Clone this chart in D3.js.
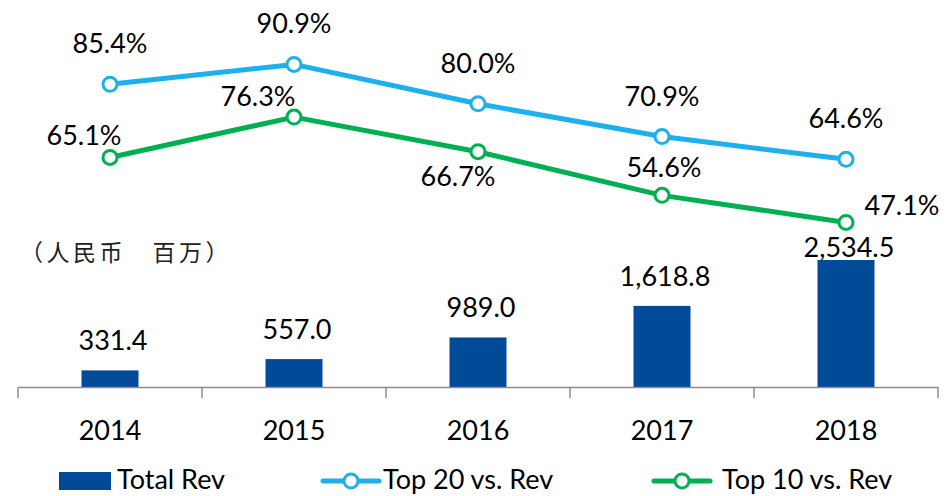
<!DOCTYPE html>
<html><head><meta charset="utf-8">
<script src="https://cdn.jsdelivr.net/npm/d3@7"></script>
<style>body{margin:0;background:#fff}svg{display:block}</style>
</head><body>
<svg id="c" width="947" height="496"></svg>
<script>
const years = ["2014","2015","2016","2017","2018"];
const totalRev = [331.4, 557.0, 989.0, 1618.8, 2534.5];
const top20 = [85.4, 90.9, 80.0, 70.9, 64.6];
const top10 = [65.1, 76.3, 66.7, 54.6, 47.1];
const unitLabel = "（人民币　百万）";
const legendNames = ["Total Rev", "Top 20 vs. Rev", "Top 10 vs. Rev"];

const FONT = "Lato, 'Open Sans', sans-serif";
const FS = 27;
const BLUE_BAR = "#004a97", LINE_BLUE = "#1eb0ec", LINE_GREEN = "#00b050";

const svg = d3.select("#c");
const x = d3.scaleBand().domain(years).range([18, 938]).paddingInner(0).paddingOuter(0);
const yBar = d3.scaleLinear().domain([0, 3000]).range([387, 236.7]);
const yPct = d3.scaleLinear().domain([0, 100]).range([392.3, 31.6]);
const cx = d => x(d) + x.bandwidth()/2;
const barW = 57;

// bars
svg.selectAll("rect.bar").data(years).join("rect")
  .attr("x", d => cx(d) - barW/2).attr("width", barW)
  .attr("y", (d,i) => yBar(totalRev[i])).attr("height", (d,i) => yBar(0) - yBar(totalRev[i]))
  .attr("fill", BLUE_BAR);

// axis
const ax = svg.append("g").attr("transform", "translate(0,387)")
  .call(d3.axisBottom(x).tickSize(0).tickPadding(34));
ax.select(".domain").attr("stroke", "#8c8c8c").attr("stroke-width", 1.5);
ax.selectAll(".tick text").attr("font-family", FONT).attr("font-size", FS).attr("fill", "#000");
const bounds = years.map(d => x(d)).concat([x(years[years.length-1]) + x.bandwidth()]);
svg.selectAll("line.tk").data(bounds).join("line")
  .attr("x1", d => d).attr("x2", d => d).attr("y1", 387).attr("y2", 398)
  .attr("stroke", "#8c8c8c").attr("stroke-width", 1.5);

// bar labels
const fmt = d3.format(",.1f");
svg.selectAll("text.bl").data(years).join("text")
  .attr("x", d => cx(d) + 3)
  .attr("y", (d,i) => i === years.length-1 ? yBar(totalRev[i]) - 3 : yBar(totalRev[i]) - 20)
  .attr("text-anchor", "middle").attr("font-family", FONT).attr("font-size", FS)
  .text((d,i) => fmt(totalRev[i]));

// lines
function drawLine(vals, color) {
  const line = d3.line().x((d,i) => cx(years[i])).y(d => yPct(d));
  svg.append("path").datum(vals).attr("d", line).attr("fill", "none")
    .attr("stroke", color).attr("stroke-width", 5).attr("stroke-linejoin", "round");
  svg.selectAll(null).data(vals).join("circle")
    .attr("cx", (d,i) => cx(years[i])).attr("cy", d => yPct(d)).attr("r", 7)
    .attr("fill", "#fff").attr("stroke", color).attr("stroke-width", 3);
}
drawLine(top20, LINE_BLUE);
drawLine(top10, LINE_GREEN);

const pf = d => d.toFixed(1) + "%";
svg.selectAll("text.t20").data(top20).join("text")
  .attr("x", (d,i) => cx(years[i])).attr("y", d => yPct(d) - 31)
  .attr("text-anchor", "middle").attr("font-family", FONT).attr("font-size", FS).text(pf);

// top10 label placements: dx, dy relative to the point
const t10pos = [[-26, -12], [-36, -11], [-20, 34], [2, -18], [56, -7]];
svg.selectAll("text.t10").data(top10).join("text")
  .attr("x", (d,i) => cx(years[i]) + t10pos[i][0]).attr("y", (d,i) => yPct(d) + t10pos[i][1])
  .attr("text-anchor", "middle").attr("font-family", FONT).attr("font-size", FS).text(pf);

// unit label
svg.append("text").attr("x", 20).attr("y", 261)
  .attr("font-family", "'Noto Sans CJK SC', sans-serif").attr("font-size", 23)
  .attr("letter-spacing", 3.5).attr("font-weight", 400).attr("fill", "#222").text(unitLabel);

// legend
const ly = 481;
svg.append("rect").attr("x", 59).attr("y", 472).attr("width", 52).attr("height", 18).attr("fill", BLUE_BAR);
const legText = [[117, legendNames[0]], [383, legendNames[1]], [722, legendNames[2]]];
svg.selectAll("text.lg").data(legText).join("text")
  .attr("x", d => d[0]).attr("y", 489).attr("font-family", FONT).attr("font-size", FS).text(d => d[1]);
[[323, 379, LINE_BLUE], [654, 710, LINE_GREEN]].forEach(([a, b, c]) => {
  svg.append("line").attr("x1", a).attr("x2", b).attr("y1", ly).attr("y2", ly)
    .attr("stroke", c).attr("stroke-width", 5).attr("stroke-linecap", "round");
  svg.append("circle").attr("cx", (a+b)/2).attr("cy", ly).attr("r", 7)
    .attr("fill", "#fff").attr("stroke", c).attr("stroke-width", 3);
});
</script>
</body></html>
